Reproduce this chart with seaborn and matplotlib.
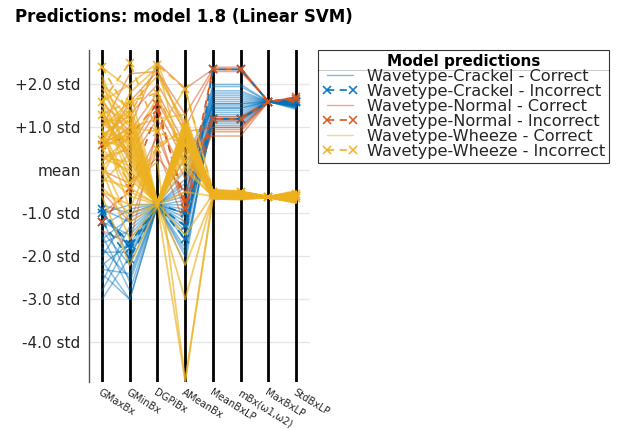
import numpy as np
import pandas as pd
import matplotlib
matplotlib.use("Agg")
import matplotlib.pyplot as plt
from matplotlib.lines import Line2D
import seaborn as sns

features = ["GMaxBx", "GMinBx", "DGPiBx", "AMeanBx", "MeanBxLP",
            "mBx(ω1,ω2)", "MaxBxLP", "StdBxLP"]
ytick_values = [2.0, 1.0, 0.0, -1.0, -2.0, -3.0, -4.0]
ytick_labels = ["+2.0 std", "+1.0 std", "mean", "-1.0 std", "-2.0 std",
                "-3.0 std", "-4.0 std"]

# standardized feature values per observation (one row per line)
crackel_correct = [
    [-1.2, -1.5, -0.80, -1.0, 1.00, 1.00, 1.6, 1.50],
    [-2.0, -1.0, -0.78, -0.5, 1.10, 1.10, 1.6, 1.52],
    [-3.0, -2.0, -0.82, -1.8, 1.20, 1.20, 1.6, 1.55],
    [-1.8, -2.5, -0.80, -0.8, 1.35, 1.35, 1.6, 1.45],
    [-2.4, -3.0, -0.80, -1.2, 1.45, 1.45, 1.6, 1.50],
    [-0.9, -1.2, -0.79, -0.3, 1.55, 1.55, 1.6, 1.58],
    [-1.5, -2.8, -0.80, -2.2, 1.65, 1.65, 1.6, 1.48],
    [-2.2, -1.7, -0.81, -1.5, 1.75, 1.75, 1.6, 1.55],
    [-1.0, -0.8, -0.78, -0.6, 2.00, 2.00, 1.6, 1.60],
    [-2.6, -1.3, -0.80, -1.0, 1.85, 1.85, 1.6, 1.50],
    [-1.4, -2.2, -0.80, -2.0, 1.30, 1.30, 1.6, 1.42],
    [-0.8, -1.0, -0.78, 0.0, 1.50, 1.50, 1.6, 1.55],
    [-1.9, -1.9, -0.80, -1.3, 1.05, 1.05, 1.6, 1.47],
    [-1.1, -2.6, -0.81, -0.7, 1.60, 1.60, 1.6, 1.57],
    [-2.8, -1.6, -0.80, -1.6, 1.40, 1.40, 1.6, 1.50],
    [-1.6, -1.1, -0.79, -0.4, 1.70, 1.70, 1.6, 1.53],
    [-0.9, -2.0, -0.80, -1.1, 1.15, 1.15, 1.6, 1.45],
    [-2.1, -3.0, -0.82, -1.9, 1.25, 1.25, 1.6, 1.50],
    [-1.3, -0.9, -0.78, 0.3, 1.55, 1.55, 1.6, 1.56],
    [-1.7, -1.4, -0.80, -0.9, 1.95, 1.95, 1.6, 1.60],
    [-1.0, -1.8, -0.79, -1.4, 1.45, 1.45, 1.6, 1.52],
    [-2.3, -2.4, -0.80, -0.2, 1.80, 1.80, 1.6, 1.58],
]
crackel_incorrect = [
    [-1.2, -2.05, -0.80, -1.6, 2.35, 2.35, 1.6, 1.58],
    [-0.9, -1.80, -0.80, -1.3, 1.20, 1.20, 1.6, 1.60],
    [-1.0, -1.70, -0.78, -1.0, 1.20, 1.20, 1.6, 1.62],
]
normal_correct = [
    [0.6, 1.0, 2.5, 1.9, 2.35, 2.35, 1.6, 1.65],
    [1.0, 2.25, 2.3, 1.0, 2.30, 2.30, 1.6, 1.70],
    [0.3, 0.5, 1.6, 0.4, 1.20, 1.20, 1.6, 1.65],
    [1.4, 0.2, 1.2, -0.2, 1.15, 1.15, 1.6, 1.62],
    [-1.0, -0.5, 0.8, -0.8, 0.90, 0.90, 1.6, 1.68],
    [0.8, 1.3, 2.0, 0.9, 1.00, 1.00, 1.6, 1.65],
    [-1.4, -1.7, 1.0, -1.0, 2.40, 2.40, 1.6, 1.70],
    [1.6, 0.9, 1.8, 0.6, 0.80, 0.80, 1.6, 1.63],
    [0.0, -0.3, 0.3, -0.5, 1.25, 1.25, 1.6, 1.66],
    [0.5, 1.6, 2.3, 1.3, 2.35, 2.35, 1.6, 1.68],
    [-0.5, -1.2, 0.5, -1.3, 1.20, 1.20, 1.6, 1.64],
    [1.2, 0.4, 1.4, 0.2, 0.95, 0.95, 1.6, 1.66],
]
normal_incorrect = [
    [0.6, 0.8, 1.55, -0.9, 1.20, 1.20, 1.6, 1.65],
    [-1.2, -0.4, 1.40, -0.7, 2.35, 2.35, 1.6, 1.70],
]
wheeze_correct = [
    [0.7, 0.5, -0.78, 1.0, -0.55, -0.60, -0.62, -0.60],
    [1.2, 0.9, -0.75, 0.9, -0.50, -0.55, -0.62, -0.55],
    [0.3, 0.2, -0.80, 0.8, -0.60, -0.60, -0.62, -0.70],
    [1.5, 1.1, -0.76, 1.05, -0.45, -0.50, -0.62, -0.50],
    [-0.2, -0.4, -0.80, 0.6, -0.65, -0.65, -0.63, -0.72],
    [0.9, 0.7, -0.77, 0.95, -0.55, -0.55, -0.62, -0.60],
    [2.0, 1.4, -0.74, 1.1, -0.50, -0.50, -0.61, -0.50],
    [0.5, -0.1, -0.79, 0.7, -0.60, -0.62, -0.62, -0.65],
    [1.0, 1.6, -0.75, 0.85, -0.52, -0.55, -0.62, -0.58],
    [0.1, 0.6, -0.80, 0.5, -0.62, -0.65, -0.63, -0.75],
    [1.7, 0.3, -0.77, 1.0, -0.48, -0.50, -0.61, -0.52],
    [0.6, 1.2, -0.78, 0.3, -0.58, -0.60, -0.62, -0.62],
    [-0.5, -0.8, -0.82, 0.9, -0.66, -0.68, -0.63, -0.76],
    [1.3, 0.8, -0.76, 1.15, -0.50, -0.52, -0.62, -0.56],
    [0.8, -0.5, -0.78, 0.75, -0.57, -0.60, -0.62, -0.63],
    [2.4, 1.9, -0.73, 0.95, -0.45, -0.48, -0.61, -0.47],
    [0.4, 0.1, -0.80, 0.1, -0.62, -0.62, -0.62, -0.68],
    [1.1, 1.3, -0.76, 0.65, -0.53, -0.55, -0.62, -0.57],
    [-0.3, 0.4, -0.79, 1.0, -0.64, -0.66, -0.63, -0.73],
    [0.2, -1.2, -0.80, -0.5, -0.60, -0.60, -0.62, -0.66],
    [1.4, 0.0, -0.77, -1.5, -0.55, -0.58, -0.62, -0.60],
    [0.0, -1.6, -0.82, -2.2, -0.62, -0.64, -0.63, -0.70],
    [0.5, 0.9, -0.80, -3.0, -0.60, -0.60, -0.62, -0.64],
    [-0.6, -2.2, -0.82, -4.9, -0.66, -0.66, -0.63, -0.74],
    [0.9, -0.3, 0.2, -4.9, -0.58, -0.60, -0.62, -0.62],
    [1.6, 2.0, 2.5, 0.8, -0.50, -0.52, -0.62, -0.55],
    [0.7, 1.5, 2.2, 1.1, -0.55, -0.55, -0.62, -0.60],
    [2.2, 0.6, 1.7, 0.4, -0.48, -0.50, -0.61, -0.50],
    [-0.1, 1.0, 1.2, 1.3, -0.60, -0.62, -0.62, -0.66],
    [1.0, -0.9, 0.6, 0.9, -0.57, -0.58, -0.62, -0.60],
    [0.4, 1.8, 2.4, 0.0, -0.60, -0.60, -0.62, -0.65],
    [1.8, 1.0, 0.9, 1.9, -0.50, -0.50, -0.62, -0.53],
    [0.6, 0.7, -0.78, 1.0, -0.56, -0.58, -0.62, -0.60],
    [0.9, 0.4, -0.77, 0.9, -0.55, -0.57, -0.62, -0.61],
    [1.2, 1.1, -0.76, 0.8, -0.52, -0.54, -0.62, -0.57],
    [0.3, 0.0, -0.79, 1.05, -0.60, -0.62, -0.62, -0.67],
    [0.8, 1.4, -0.78, 0.7, -0.56, -0.57, -0.62, -0.60],
    [1.5, 0.5, -0.77, 1.0, -0.50, -0.52, -0.62, -0.55],
    [0.0, -0.6, -0.80, 0.9, -0.63, -0.64, -0.63, -0.70],
    [2.1, 0.2, -0.75, 0.6, -0.47, -0.50, -0.61, -0.50],
    [0.7, 0.8, -0.78, 0.95, -0.56, -0.58, -0.62, -0.62],
    [1.1, 0.6, -0.77, 1.0, -0.54, -0.56, -0.62, -0.59],
    [0.5, 1.0, -0.79, 0.85, -0.58, -0.60, -0.62, -0.64],
    [1.3, 0.3, -0.76, 0.9, -0.52, -0.53, -0.62, -0.56],
    [-0.4, -1.0, -0.81, 0.4, -0.65, -0.66, -0.63, -0.74],
    [1.9, 1.2, -0.75, 1.2, -0.49, -0.51, -0.61, -0.52],
    [0.2, 0.8, -0.79, 0.6, -0.61, -0.63, -0.62, -0.68],
    [1.4, -0.2, -0.77, 0.8, -0.53, -0.55, -0.62, -0.58],
]
wheeze_incorrect = [
    [2.4, 1.3, 2.45, 1.9, -0.50, -0.50, -0.62, -0.60],
    [1.6, 2.5, 0.9, 0.6, -0.55, -0.55, -0.62, -0.55],
    [1.3, 1.6, 1.8, 0.2, -0.50, -0.50, -0.62, -0.65],
    [0.7, -0.3, 0.5, 1.0, -0.60, -0.60, -0.62, -0.60],
]

group_names = ["Wavetype-Crackel - Correct", "Wavetype-Crackel - Incorrect",
               "Wavetype-Normal - Correct", "Wavetype-Normal - Incorrect",
               "Wavetype-Wheeze - Correct", "Wavetype-Wheeze - Incorrect"]
group_rows = [crackel_correct, crackel_incorrect, normal_correct,
              normal_incorrect, wheeze_correct, wheeze_incorrect]

blue, red, yellow = "#0072BD", "#D95319", "#EDB120"
group_colors = [blue, blue, red, red, yellow, yellow]
group_alpha = [0.45, 0.9, 0.5, 0.9, 0.65, 0.9]
group_lw = [1.1, 1.3, 1.1, 1.3, 1.3, 1.3]

records = []
uid = 0
for name, rows in zip(group_names, group_rows):
    for row in rows:
        for i, v in enumerate(row):
            records.append({"group": name, "line": uid, "feature": i, "value": v})
        uid += 1
df = pd.DataFrame(records)

sns.set_style("white")
plt.rcParams["font.family"] = ["DejaVu Sans"]

fig = plt.figure(figsize=(6.17, 4.29), dpi=100)
ax = fig.add_axes([89 / 617, 1 - 382 / 429, (310 - 89) / 617, (382 - 50) / 429])

# draw order: crackel, normal, wheeze; wrong predictions on top of each class
draw_order = [0, 2, 1, 3, 4, 5]
for gi in draw_order:
    name = group_names[gi]
    sub = df[df["group"] == name]
    incorrect = "Incorrect" in name
    c = group_colors[gi]
    kw = dict(lw=group_lw[gi], alpha=group_alpha[gi])
    if incorrect:
        kw.update(linestyle=(0, (4, 3)), marker="x", markersize=5.5,
                  markeredgewidth=1.2, markeredgecolor=c, markerfacecolor=c)
    sns.lineplot(data=sub, x="feature", y="value", units="line",
                 estimator=None, color=c, ax=ax, legend=False, zorder=3, **kw)

for i in range(len(features)):
    ax.axvline(i, color="black", lw=2, zorder=1.5)

ax.set_xlim(-0.47, 7.5)
ax.set_ylim(-4.92, 2.8)
ax.set_yticks(ytick_values)
ax.set_yticklabels(ytick_labels, fontsize=11, color="#262626")
ax.set_xticks(range(len(features)))
ax.set_xticklabels(features, rotation=-32, ha="left", va="top",
                   rotation_mode="anchor", fontsize=7.2, color="#262626")
ax.tick_params(axis="x", length=3, width=1, direction="out", pad=1)
ax.tick_params(axis="y", length=0, pad=6)
ax.set_xlabel("")
ax.set_ylabel("")
ax.grid(axis="y", color="#e6e6e6", lw=1, zorder=0)
ax.set_axisbelow(True)
for s in ["top", "right", "bottom"]:
    ax.spines[s].set_visible(False)
ax.spines["left"].set_color("#555555")
ax.spines["left"].set_linewidth(1)

fig.text(15 / 617, 1 - 17 / 429, "Predictions: model 1.8 (Linear SVM)",
         fontsize=12, fontweight="bold", ha="left", va="center", color="black")

handles = []
for gi, name in enumerate(group_names):
    incorrect = "Incorrect" in name
    c = group_colors[gi]
    handles.append(Line2D([0], [0], color=c,
                          lw=1.3 if incorrect else 1.0,
                          alpha=0.9 if incorrect else 0.5,
                          linestyle=(0, (4, 3)) if incorrect else "-",
                          marker="x" if incorrect else None,
                          markersize=5.5, markeredgewidth=1.2,
                          markeredgecolor=c))
leg = fig.legend(handles, group_names, loc="upper left",
                 bbox_to_anchor=(318 / 617, 1 - 50 / 429),
                 bbox_transform=fig.transFigure, title="Model predictions",
                 fontsize=11.6, title_fontproperties={"weight": "bold", "size": 11},
                 frameon=True, fancybox=False, edgecolor="black",
                 borderpad=0.25, labelspacing=0.0, handlelength=2.2,
                 handletextpad=0.6, borderaxespad=0, numpoints=2)
leg.get_frame().set_linewidth(0.8)
for t in leg.get_texts():
    t.set_color("#262626")
leg.get_title().set_color("black")

fig.canvas.draw()
bb = leg.get_window_extent().transformed(fig.transFigure.inverted())
fig.add_artist(Line2D([bb.x0, bb.x1], [1 - 70 / 429, 1 - 70 / 429],
                      transform=fig.transFigure, color="black", lw=0.8))

fig.savefig("out.png", dpi=100)
